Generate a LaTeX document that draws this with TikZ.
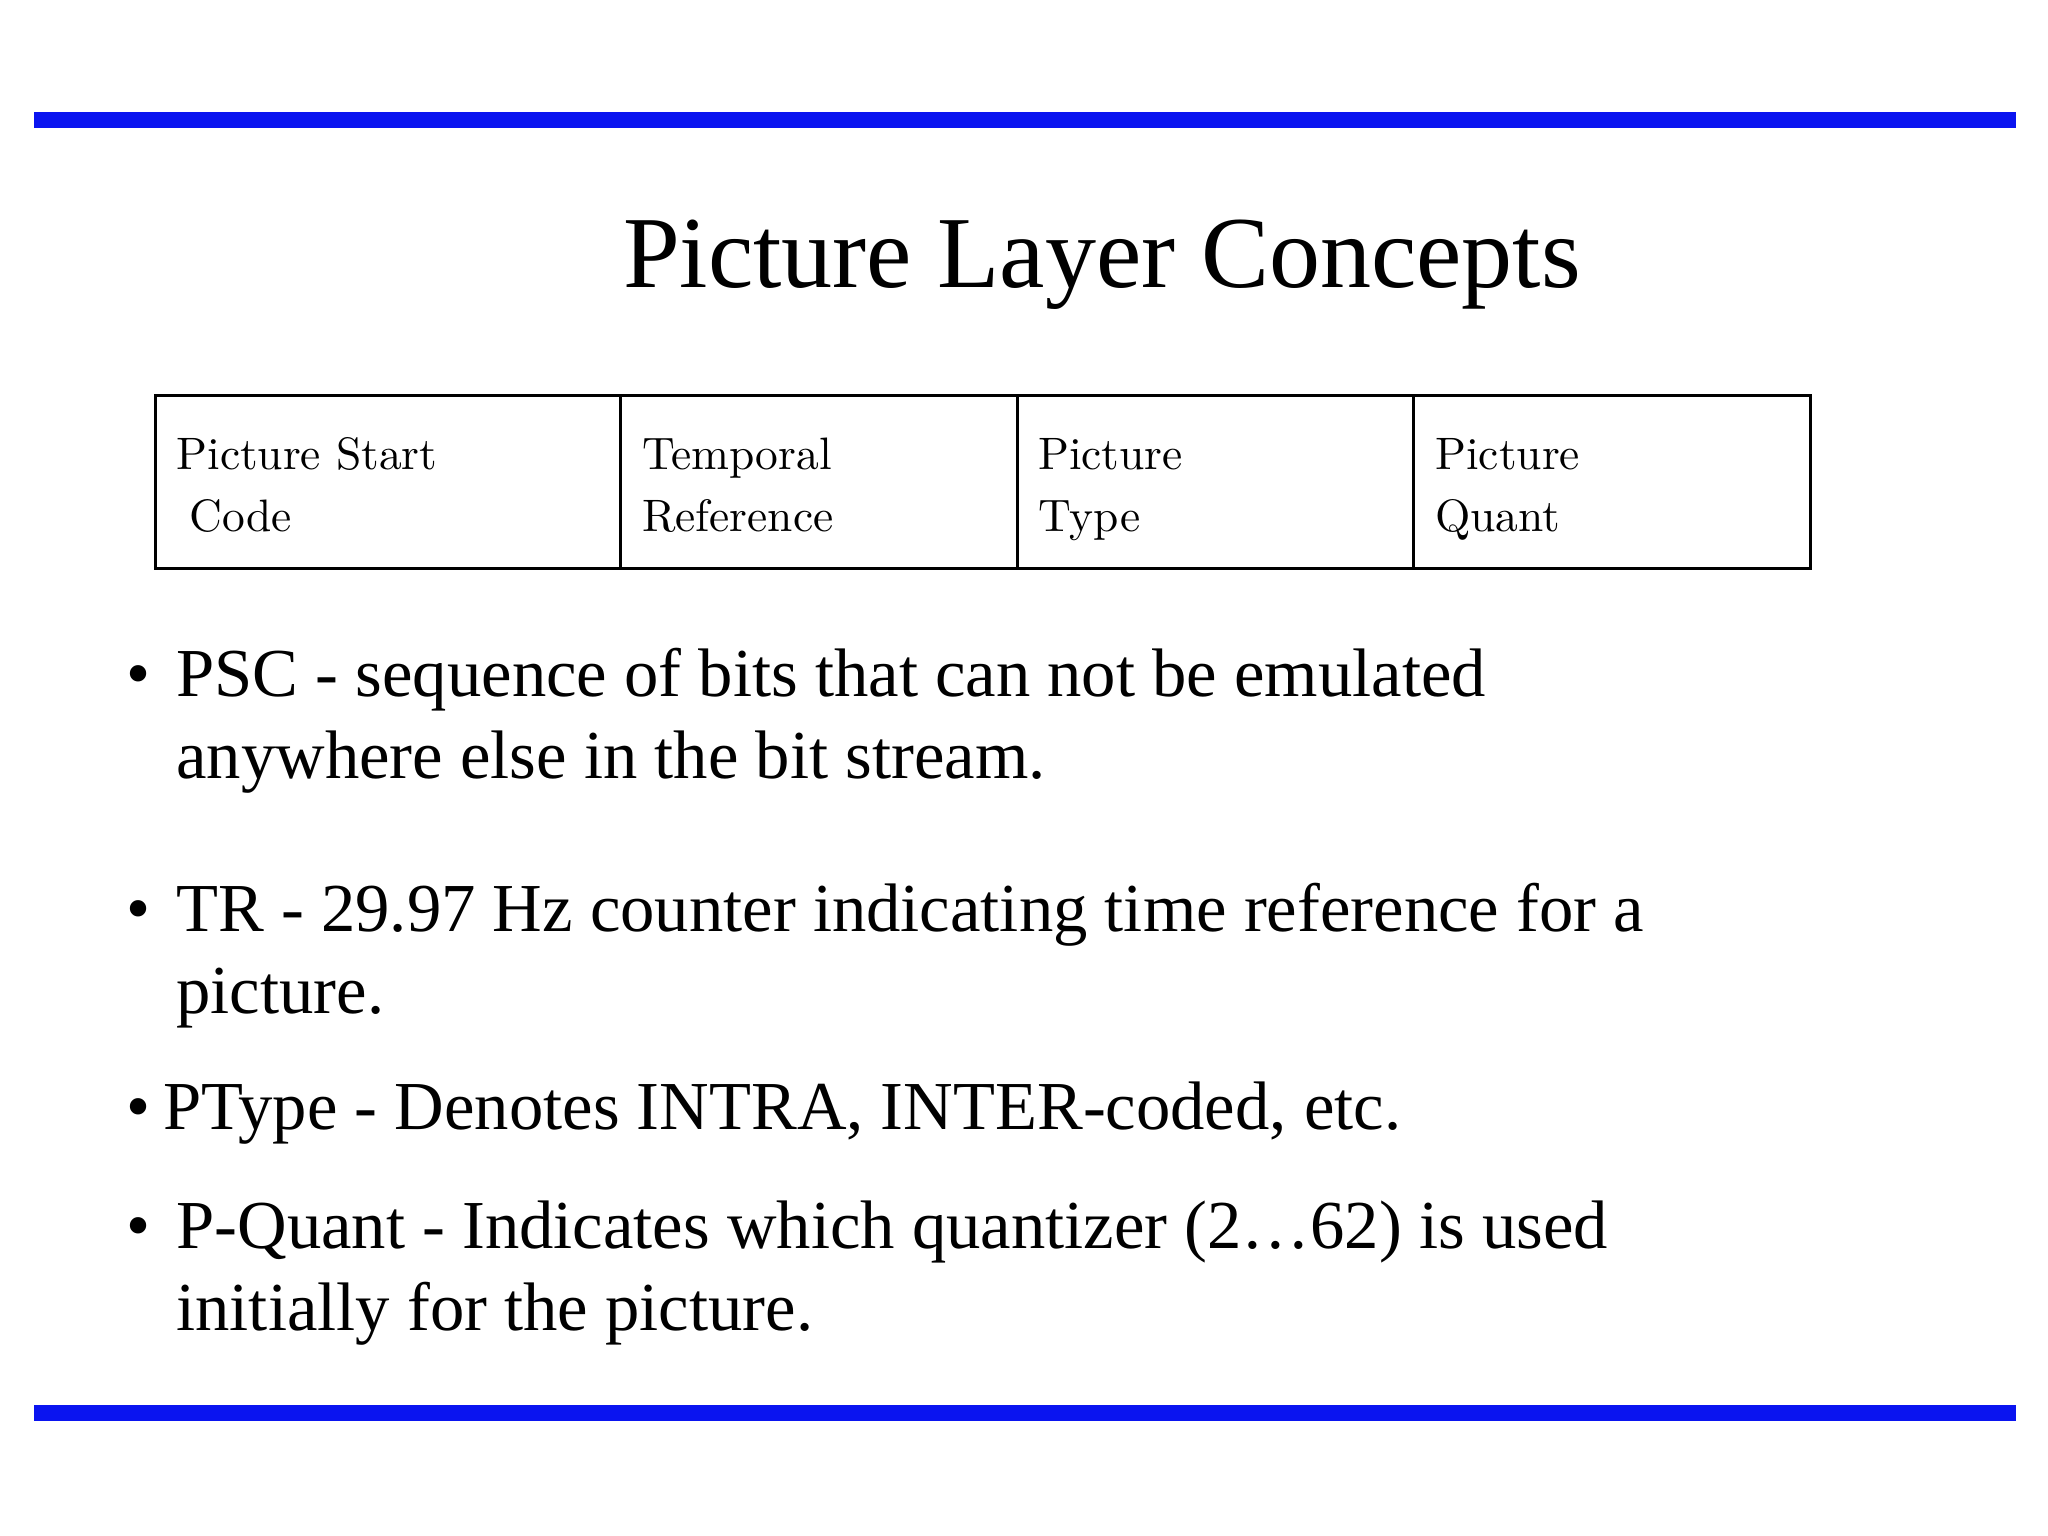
\documentclass[tikz,border=0pt]{standalone}
\usepackage{fontspec}
\newfontfamily\tnr{Liberation Serif}
\begin{document}
\begin{tikzpicture}[x=1cm,y=-1cm,
  bar/.style={fill={rgb,255:red,10;green,20;blue,240}, draw=none},
  cell/.style={draw, line width=0.6pt},
  ctext/.style={anchor=base west, inner sep=0pt, font=\fontsize{9.8}{12}\selectfont, align=left},
  btext/.style={anchor=base west, inner sep=0pt, font=\tnr\fontsize{14.8}{17.6}\selectfont, align=left},
  bul/.style={anchor=base west, inner sep=0pt, font=\tnr\fontsize{14.8}{17.6}\selectfont}]
\useasboundingbox (0,0) rectangle (15.52,11.64);
\fill[bar] (0.26,0.85) rectangle (15.28,0.97);
\fill[bar] (0.26,10.65) rectangle (15.28,10.77);
\node[anchor=base, inner sep=0pt, font=\tnr\fontsize{22}{26}\selectfont] (title) at (8.35,2.18) {Picture Layer Concepts};
\draw[cell] (1.18,3.00) rectangle (13.72,4.31);
\draw[cell] (4.70,3.00) -- (4.70,4.31);
\draw[cell] (7.71,3.00) -- (7.71,4.31);
\draw[cell] (10.71,3.00) -- (10.71,4.31);
\node[ctext] (c1) at (1.33,3.56) {Picture Start};
\node[ctext] (c1b) at (1.43,4.03) {Code};
\node[ctext] (c2) at (4.86,3.56) {Temporal};
\node[ctext] (c2b) at (4.86,4.03) {Reference};
\node[ctext] (c3) at (7.86,3.56) {Picture};
\node[ctext] (c3b) at (7.86,4.03) {Type};
\node[ctext] (c4) at (10.87,3.56) {Picture};
\node[ctext] (c4b) at (10.87,4.03) {Quant};
\node[bul] (b1) at (0.95,5.28) {•};
\node[btext] (t1) at (1.33,5.28) {PSC - sequence of bits that can not be emulated};
\node[btext] (t1b) at (1.33,5.90) {anywhere else in the bit stream.};
\node[bul] (b2) at (0.95,7.06) {•};
\node[btext] (t2) at (1.33,7.06) {TR - 29.97 Hz counter indicating time reference for a};
\node[btext] (t2b) at (1.33,7.68) {picture.};
\node[bul] (b3) at (0.95,8.56) {•};
\node[btext] (t3) at (1.23,8.56) {PType - Denotes INTRA, INTER-coded, etc.};
\node[bul] (b4) at (0.95,9.46) {•};
\node[btext] (t4) at (1.33,9.46) {P-Quant - Indicates which quantizer (2…62) is used};
\node[btext] (t4b) at (1.33,10.08) {initially for the picture.};
\end{tikzpicture}
\end{document}
